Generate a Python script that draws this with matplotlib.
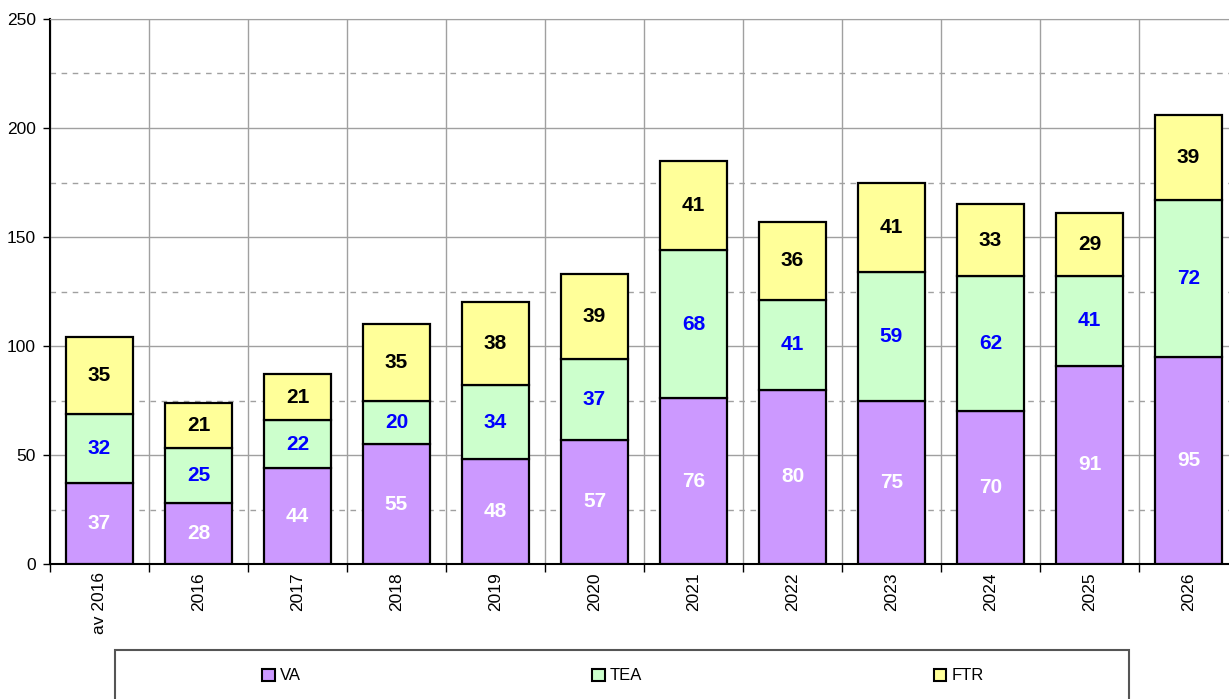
import numpy as np
import matplotlib.pyplot as plt
from matplotlib.patches import Rectangle, Patch
from matplotlib.ticker import MultipleLocator

plt.rcParams['font.family'] = ['Liberation Sans', 'DejaVu Sans']

years = ['av 2016', '2016', '2017', '2018', '2019', '2020',
         '2021', '2022', '2023', '2024', '2025', '2026']
va = [37, 28, 44, 55, 48, 57, 76, 80, 75, 70, 91, 95]
tea = [32, 25, 22, 20, 34, 37, 68, 41, 59, 62, 41, 72]
ftr = [35, 21, 21, 35, 38, 39, 41, 36, 41, 33, 29, 39]

series = [('VA', va, '#CC99FF', 'white'),
          ('TEA', tea, '#CCFFCC', '#0000FF'),
          ('FTR', ftr, '#FFFF99', 'black')]

W, H = 1229, 699
fig = plt.figure(figsize=(W / 100, H / 100), dpi=100)
ax = fig.add_axes([50 / W, 1 - 564 / H, (1238 - 50) / W, (564 - 19) / H])

x = np.arange(len(years))
bottom = np.zeros(len(years))
for name, vals, col, tcol in series:
    vals = np.array(vals)
    bars = ax.bar(x, vals, 0.67, bottom=bottom, color=col, edgecolor='black',
                  linewidth=1.6, zorder=3, label=name)
    ax.bar_label(bars, labels=[str(v) for v in vals], label_type='center',
                 color=tcol, fontsize=15, fontweight='bold', zorder=4)
    bottom += vals

ax.set_xlim(-0.5, len(years) - 0.5)
ax.set_ylim(0, 250)

# boundaries as major ticks, names as minor ticks
ax.set_xticks(np.arange(len(years) + 1) - 0.5)
ax.set_xticklabels([])
ax.set_xticks(x, minor=True)
ax.set_xticklabels(years, minor=True, rotation=90, fontsize=12.5)
ax.tick_params(axis='x', which='major', direction='out', length=6, width=1, color='black')
ax.tick_params(axis='x', which='minor', length=0, pad=6)

ax.yaxis.set_major_locator(MultipleLocator(50))
ax.yaxis.set_minor_locator(MultipleLocator(25))
ax.tick_params(axis='y', which='major', direction='out', length=5, width=1, labelsize=12.5, pad=5)
ax.tick_params(axis='y', which='minor', length=0)

ax.grid(axis='x', which='major', color='#A0A0A0', linewidth=1, zorder=0)
ax.grid(axis='y', which='major', color='#A0A0A0', linewidth=1, zorder=0)
ax.grid(axis='y', which='minor', color='#A0A0A0', linewidth=1, linestyle=(0, (4, 4)), zorder=0)
ax.set_axisbelow(True)

ax.spines['top'].set_color('#A0A0A0')
ax.spines['right'].set_visible(False)
ax.spines['left'].set_color('black')
ax.spines['bottom'].set_color('black')
ax.spines['left'].set_linewidth(1.5)
ax.spines['bottom'].set_linewidth(1.5)

# legend frame
fig.patches.append(Rectangle((115 / W, -0.05), (1129 - 115) / W, 0.05 + (H - 650) / H,
                             transform=fig.transFigure, facecolor='white',
                             edgecolor='#555555', linewidth=1.5))
handles = [Patch(facecolor=c, edgecolor='black', linewidth=1.5, label=n) for n, _, c, _ in series]
fig.legend(handles=handles, loc='center left', bbox_to_anchor=(262 / W, 1 - 676 / H),
           ncol=3, frameon=False, fontsize=12, borderpad=0, borderaxespad=0,
           handlelength=0.75, handleheight=0.75, handletextpad=0.3, columnspacing=17.5)

fig.savefig('out.png', dpi=100)
